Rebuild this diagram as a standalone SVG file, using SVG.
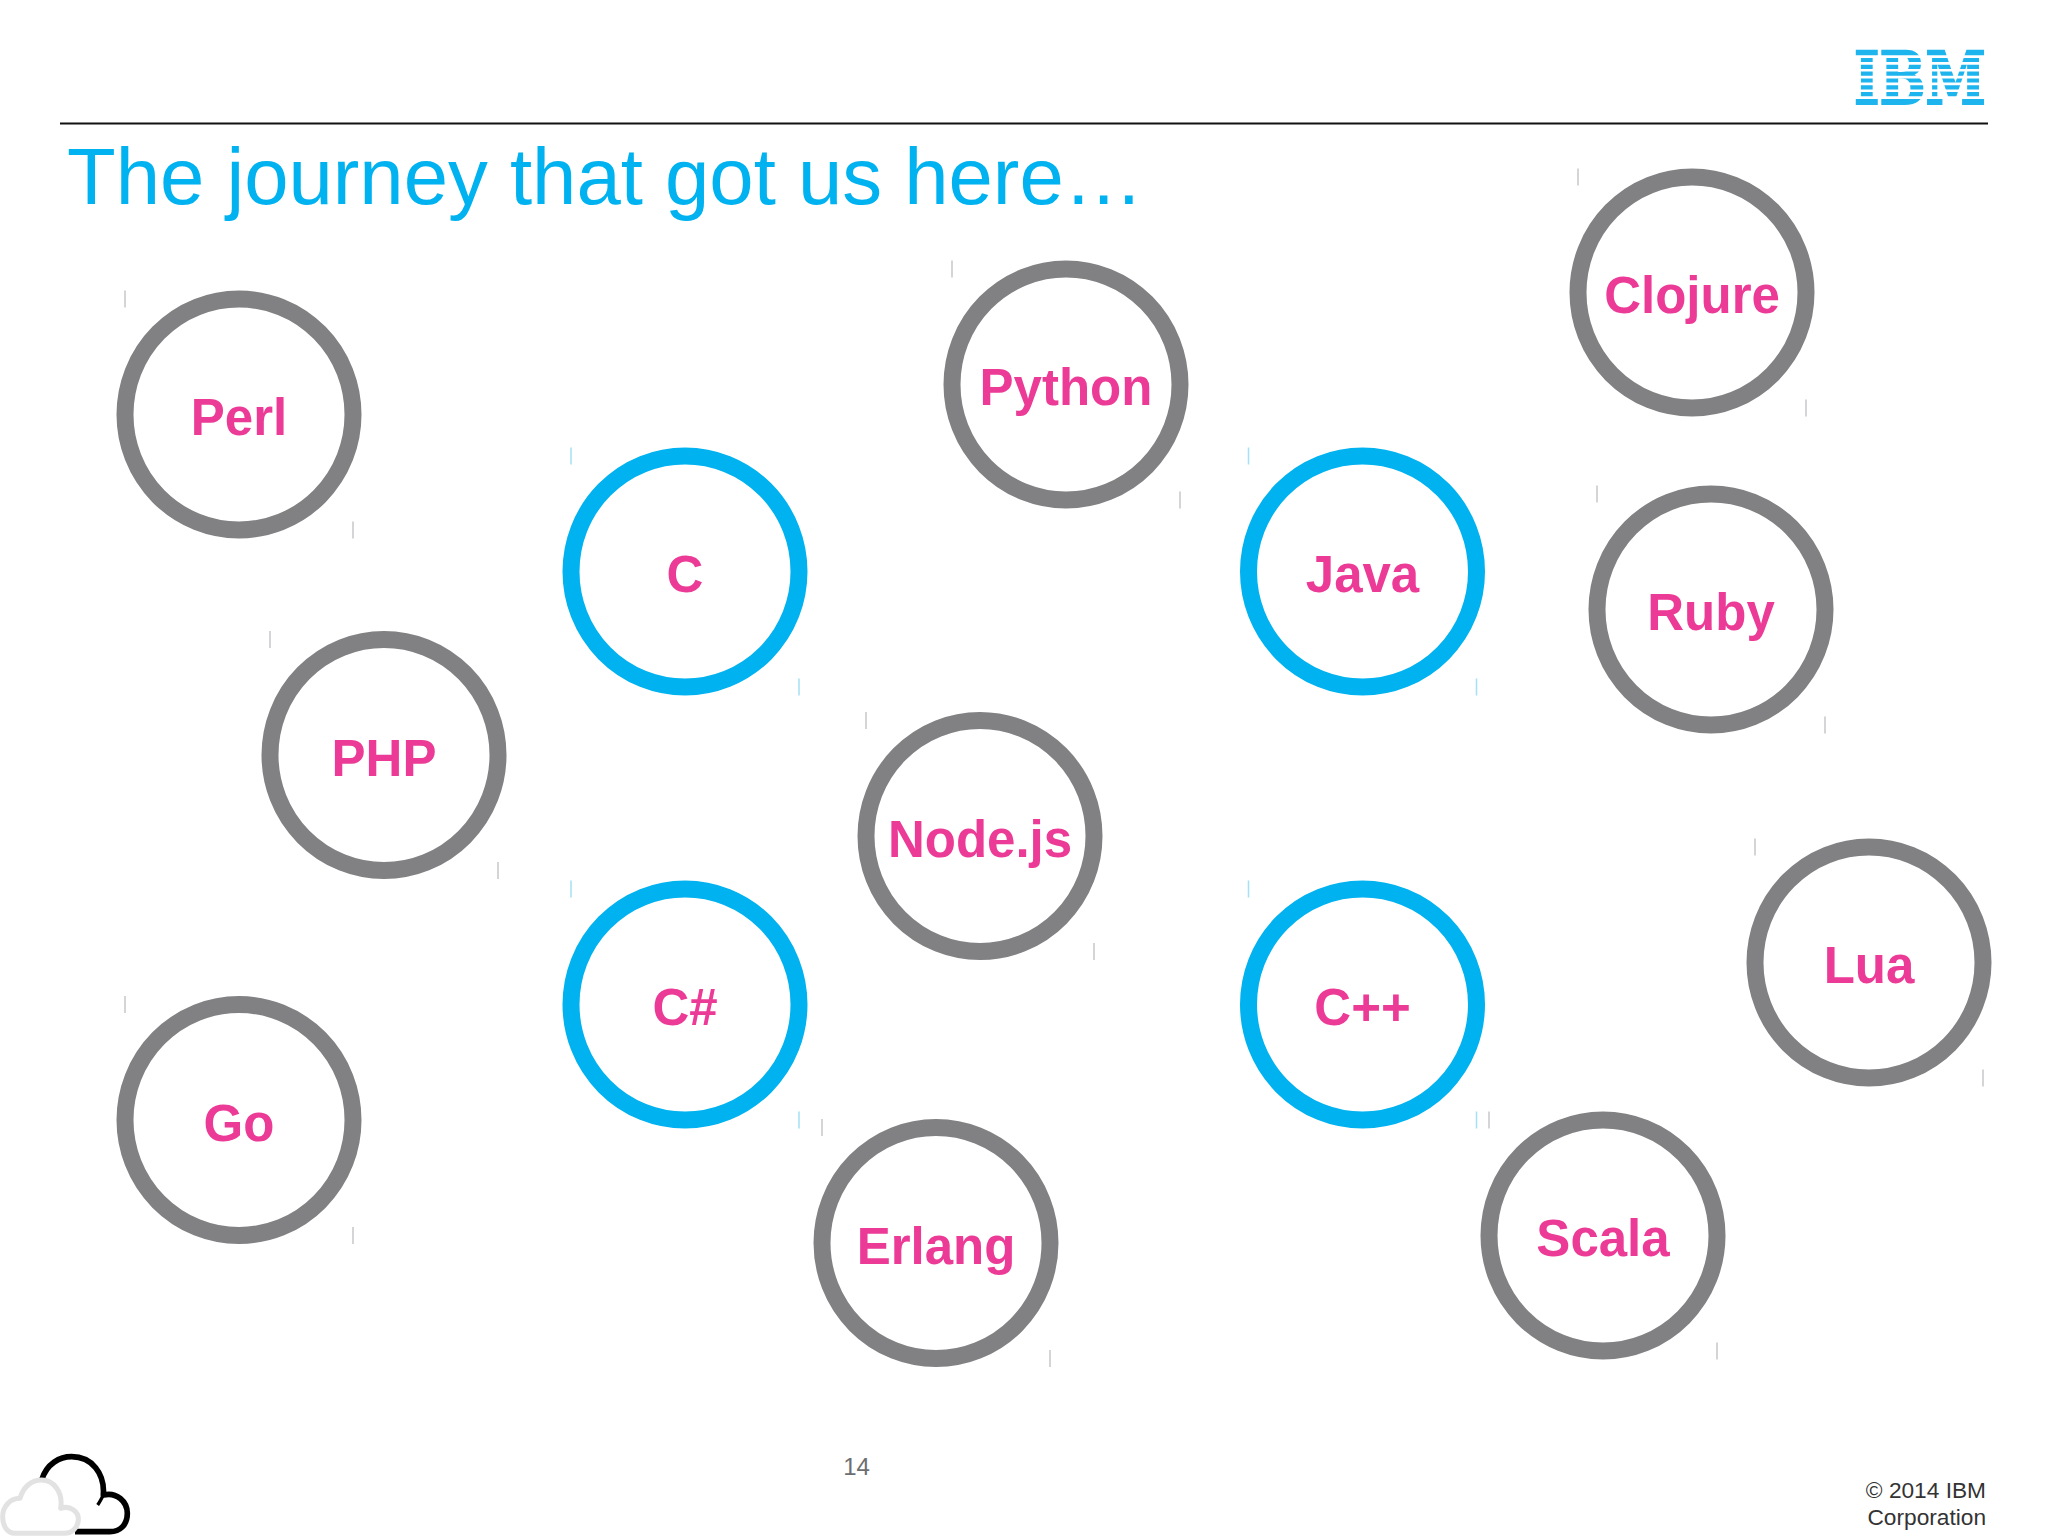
<svg xmlns="http://www.w3.org/2000/svg" width="2048" height="1536" viewBox="0 0 2048 1536">
<style>
.g{--r:#818083;--t:#c8c8ca}
.b{--r:#00b2ef;--t:#a5e0f5}
.ring{fill:#fff;stroke:var(--r);stroke-width:17}
.tick{stroke:var(--t);stroke-width:1.5;fill:none}
.lbl{font:bold 51px "Liberation Sans",Arial,sans-serif;fill:#ec3a97;text-anchor:middle}
.foot{font:22.7px "Liberation Sans",Arial,sans-serif;fill:#333;text-anchor:end}
</style>
<defs>
<g id="r"><ellipse class="ring" rx="114" ry="115.5"/><path class="tick" d="M-114-124V-107M114 107V124"/></g>
</defs>
<rect width="2048" height="1536" fill="#fff"/>
<path d="M60 123.5H1988" stroke="#111" stroke-width="2" fill="none"/>
<g id="ibm-logo">
<text x="1854" y="104" font-family="DejaVu Serif,serif" font-weight="bold" font-size="73" fill="#1eb4ee" stroke="#1eb4ee" stroke-width="2" textLength="132" lengthAdjust="spacingAndGlyphs">IBM</text>
<path d="M1850 56.6H1992M1850 63.4H1992M1850 70.3H1992M1850 77.1H1992M1850 83.9H1992M1850 90.8H1992M1850 97.6H1992" stroke="#fff" stroke-width="2.6" fill="none"/>
</g>
<text id="title" x="67" y="204" font-family="Liberation Sans,Arial,sans-serif" font-size="79.7" fill="#00b2ef">The journey that got us here…</text>
<g id="perl" class="g" transform="translate(239 414.5)"><use href="#r"/><text class="lbl" y="20.5">Perl</text></g>
<g id="c" class="b" transform="translate(685 571.5)"><use href="#r"/><text class="lbl" y="20.5">C</text></g>
<g id="python" class="g" transform="translate(1066 384.5)"><use href="#r"/><text class="lbl" y="20.5">Python</text></g>
<g id="java" class="b" transform="translate(1362.5 571.5)"><use href="#r"/><text class="lbl" y="20.5">Java</text></g>
<g id="clojure" class="g" transform="translate(1692 292.5)"><use href="#r"/><text class="lbl" y="20.5">Clojure</text></g>
<g id="ruby" class="g" transform="translate(1711 609.5)"><use href="#r"/><text class="lbl" y="20.5">Ruby</text></g>
<g id="php" class="g" transform="translate(384 755)"><use href="#r"/><text class="lbl" y="20.5">PHP</text></g>
<g id="nodejs" class="g" transform="translate(980 836)"><use href="#r"/><text class="lbl" y="20.5">Node.js</text></g>
<g id="lua" class="g" transform="translate(1869 962.5)"><use href="#r"/><text class="lbl" y="20.5">Lua</text></g>
<g id="csharp" class="b" transform="translate(685 1004.5)"><use href="#r"/><text class="lbl" y="20.5">C#</text></g>
<g id="cpp" class="b" transform="translate(1362.5 1004.5)"><use href="#r"/><text class="lbl" y="20.5">C++</text></g>
<g id="go" class="g" transform="translate(239 1120)"><use href="#r"/><text class="lbl" y="20.5">Go</text></g>
<g id="erlang" class="g" transform="translate(936 1243)"><use href="#r"/><text class="lbl" y="20.5">Erlang</text></g>
<g id="scala" class="g" transform="translate(1603 1235.5)"><use href="#r"/><text class="lbl" y="20.5">Scala</text></g>
<g id="clouds" transform="translate(0 1430) scale(.3333)" fill="none" stroke-linejoin="round">
<path d="M125 150C140 100 180 80 215 80C275 80 315 130 310 195C350 185 382 215 382 250C382 285 360 305 330 305H225" stroke="#000" stroke-width="17"/>
<path d="M293 225C300 215 305 205 310 195" stroke="#000" stroke-width="10"/>
<path d="M60 205C70 170 95 150 125 150C160 150 190 185 182 235C210 225 237 245 235 270C233 295 215 310 195 310H45C20 310 8 285 8 260C8 230 30 205 60 205Z" fill="#fff" stroke="#e2e2e2" stroke-width="15"/>
</g>
<text id="page" x="856.5" y="1475" font-family="Liberation Sans,Arial,sans-serif" font-size="24" fill="#6d6e71" text-anchor="middle">14</text>
<text id="copyright" class="foot"><tspan x="1986" y="1498">© 2014 IBM</tspan><tspan x="1986" y="1525">Corporation</tspan></text>
</svg>
